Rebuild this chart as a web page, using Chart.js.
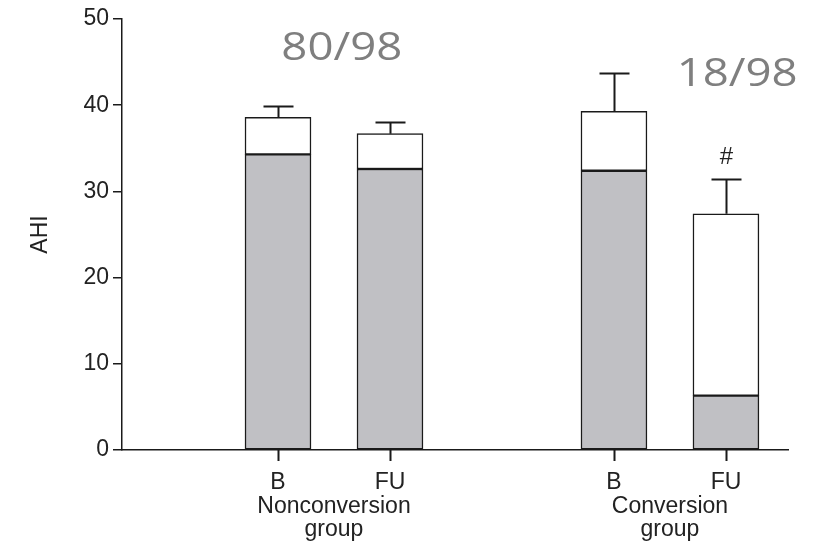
<!DOCTYPE html>
<html>
<head>
<meta charset="utf-8">
<script src="https://cdn.jsdelivr.net/npm/chart.js@4.4.1/dist/chart.umd.min.js"></script>
<style>
  html, body { margin: 0; padding: 0; background: #fff; }
  #wrap { width: 813px; height: 543px; }
</style>
</head>
<body>
<div id="wrap"><canvas id="ahiChart" width="813" height="543"></canvas></div>
<script>
// values
var groups = ['Nonconversion group', 'Conversion group'];
var timepoints = ['B', 'FU', 'B', 'FU'];
var groupOfBar = [0, 0, 1, 1];
var greyPart = [34.3, 32.6, 32.4, 6.3];
var totalAhi = [38.6, 36.7, 39.3, 27.4];
var sem = [1.3, 1.4, 4.4, 4.0];
var ratios = ['80/98', '18/98'];
var markers = ['', '', '', '#'];

var FONT = '"Liberation Sans", Arial, sans-serif';

// bar slot on the x axis: one empty slot between groups
var xPos = timepoints.map(function (t, i) { return groupOfBar[i] * 3 + (i % 2); });
var whitePart = totalAhi.map(function (t, i) { return +(t - greyPart[i]).toFixed(2); });

var extras = {
  id: 'extras',
  afterDraw: function (chart) {
    var ctx = chart.ctx;
    var x = chart.scales.x, y = chart.scales.y;
    var base = y.bottom;
    ctx.save();
    ctx.strokeStyle = '#1a1a1a';
    ctx.lineWidth = 2;
    xPos.forEach(function (v, i) {
      var px = Math.round(x.getPixelForValue(v)) + 0.5;
      // error bar
      var top = y.getPixelForValue(totalAhi[i]);
      var cap = Math.round(y.getPixelForValue(totalAhi[i] + sem[i])) + 0.5;
      ctx.beginPath();
      ctx.moveTo(px, top);
      ctx.lineTo(px, cap);
      ctx.moveTo(px - 15, cap);
      ctx.lineTo(px + 15, cap);
      // tick mark under the bar
      ctx.moveTo(px, base);
      ctx.lineTo(px, base + 11);
      ctx.stroke();
      if (markers[i]) {
        ctx.fillStyle = '#222';
        ctx.font = '24px ' + FONT;
        ctx.textAlign = 'center';
        ctx.textBaseline = 'middle';
        ctx.fillText(markers[i], px, cap - 22);
      }
    });
    // group labels under the ticks
    ctx.fillStyle = '#222';
    ctx.font = '23px ' + FONT;
    ctx.textAlign = 'center';
    ctx.textBaseline = 'middle';
    groups.forEach(function (g, gi) {
      var cx = x.getPixelForValue(gi * 3 + 0.5);
      var words = g.split(' ');
      ctx.fillText(words[0], cx, 507);
      ctx.fillText(words[1], cx, 530);
    });
    // patient ratios, slightly widened like the source slide text
    ctx.fillStyle = '#7f7f7f';
    ctx.font = '38px "Open Sans", sans-serif';
    [[0.57, 46.5], [4.1, 43.5]].forEach(function (p, i) {
      ctx.save();
      ctx.translate(x.getPixelForValue(p[0]), y.getPixelForValue(p[1]));
      ctx.scale(1.2, 1);
      ctx.fillText(ratios[i], 0, 0);
      ctx.restore();
    });
    ctx.restore();
  }
};

new Chart(document.getElementById('ahiChart'), {
  type: 'bar',
  data: {
    datasets: [{
      data: xPos.map(function (v, i) { return { x: v, y: greyPart[i] }; }),
      backgroundColor: '#c0c0c4',
      borderColor: '#1a1a1a',
      borderWidth: 1.5,
      borderSkipped: false,
      barThickness: 66
    }, {
      data: xPos.map(function (v, i) { return { x: v, y: whitePart[i] }; }),
      backgroundColor: '#ffffff',
      borderColor: '#1a1a1a',
      borderWidth: 1.5,
      borderSkipped: false,
      barThickness: 66
    }]
  },
  options: {
    responsive: false,
    animation: false,
    layout: { padding: { top: 19, right: 25, left: 0, bottom: 0 } },
    plugins: { legend: { display: false }, tooltip: { enabled: false } },
    scales: {
      x: {
        type: 'linear',
        stacked: true,
        offset: false,
        min: -1.393,
        max: 4.554,
        afterBuildTicks: function (scale) {
          scale.ticks = xPos.map(function (v) { return { value: v }; });
        },
        afterFit: function (scale) { scale.height = 93; },
        border: { color: '#1a1a1a', width: 1.5 },
        grid: { display: false },
        ticks: {
          autoSkip: false,
          maxRotation: 0,
          padding: 11,
          color: '#222',
          font: { family: FONT, size: 23 },
          callback: function (value) {
            var i = xPos.indexOf(value);
            return i >= 0 ? timepoints[i] : '';
          }
        }
      },
      y: {
        stacked: true,
        min: 0,
        max: 50,
        afterFit: function (scale) { scale.width = 122; },
        border: { color: '#1a1a1a', width: 1.5 },
        grid: { drawOnChartArea: false, drawTicks: true, tickLength: 9, color: '#1a1a1a', lineWidth: 1.5 },
        ticks: {
          stepSize: 10,
          padding: 4,
          color: '#222',
          font: { family: FONT, size: 23 }
        },
        title: {
          display: true,
          text: 'AHI',
          color: '#222',
          font: { family: FONT, size: 23 },
          padding: { top: 27, bottom: 0 }
        }
      }
    }
  },
  plugins: [extras]
});
</script>
</body>
</html>
